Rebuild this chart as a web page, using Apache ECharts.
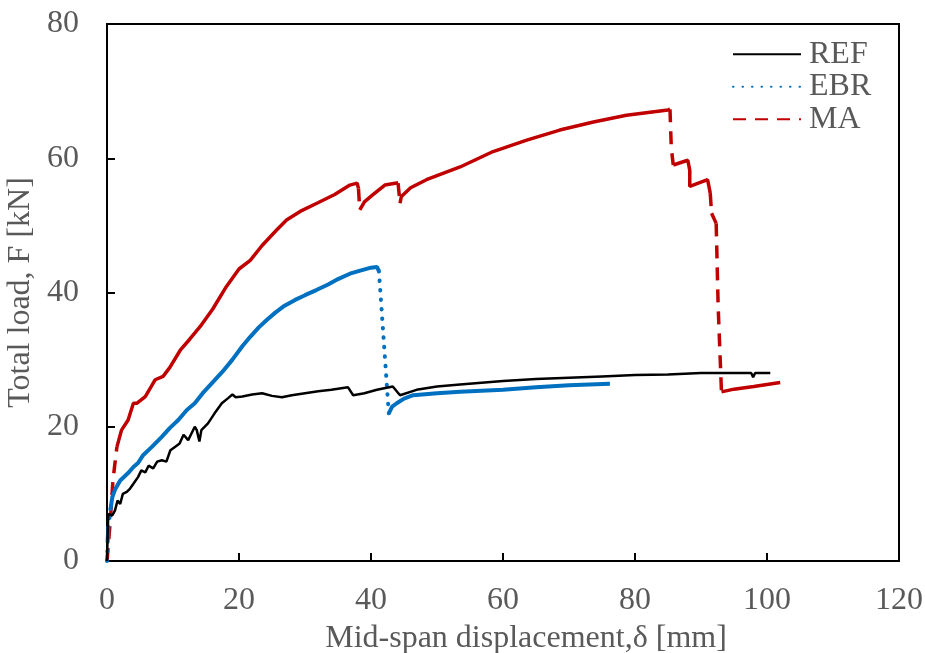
<!DOCTYPE html>
<html>
<head>
<meta charset="utf-8">
<script src="https://cdn.jsdelivr.net/npm/echarts@6/dist/echarts.min.js"></script>
<style>html,body{margin:0;padding:0;background:#fff}#c{width:925px;height:653px}</style>
</head>
<body>
<div id="c"></div>
<script>
// ---- data (x: mid-span displacement [mm], y: total load [kN]) ----
const seriesNames = ['REF', 'EBR', 'MA'];
const xTicks = [0, 20, 40, 60, 80, 100, 120];
const yTicks = [0, 20, 40, 60, 80];

const refCurve = [[0,0],[0.1,4],[0.2,7],[0.8,6.8],[1.2,7.5],[1.6,9],[2.0,8.5],[2.4,10],[3.0,10.3],[3.5,10.8],[4.0,11.5],[4.7,12.5],[5.2,13.5],[5.8,13.2],[6.3,14.2],[7.0,13.8],[7.6,14.8],[8.3,15],[9,14.8],[9.6,16.5],[10.3,17],[11,17.5],[11.6,18.8],[12.3,18],[12.8,19],[13.3,20],[13.6,19.5],[14.0,17.8],[14.3,19.5],[15.3,20.5],[16.3,22],[17.4,23.5],[18.4,24.3],[19,24.8],[19.5,24.4],[20.5,24.5],[22,24.8],[23.5,25],[25,24.6],[26.5,24.4],[28,24.7],[30,25],[32,25.3],[34,25.5],[36.5,25.9],[37.3,24.7],[39,25],[40.9,25.5],[43.3,26],[44.4,24.7],[46.9,25.5],[50,26],[53.5,26.3],[60,26.8],[65,27.1],[70,27.3],[75,27.5],[80,27.7],[85,27.8],[90,28],[95,28],[97.6,28],[97.9,27.4],[98.2,28],[100.5,28]];

const ebrCurve = [[0,0],[0.1,3],[0.2,5],[0.5,7.5],[0.8,9.5],[1.2,10.6],[2,12],[3.2,13.1],[4,14],[4.7,14.6],[5.5,15.8],[6.8,17],[8.3,18.5],[9.5,19.8],[10.8,21],[12.1,22.5],[13.3,23.5],[14.5,25],[15.9,26.5],[17.5,28.2],[19,30],[20.5,32],[21.7,33.4],[23,34.8],[24.2,35.9],[25.5,37],[26.7,37.9],[28.5,38.9],[30,39.6],[31.8,40.4],[33.5,41.2],[35,42],[36.8,42.8],[38.5,43.3],[40,43.7],[40.9,43.8],[41.2,43.2],[42.7,22],[43.2,23],[43.9,23.5],[45,24.2],[46.4,24.7],[50,25],[53.5,25.2],[60,25.5],[65,25.9],[70,26.2],[76.2,26.4]];

const maCurve = [[0,0],[0.5,6],[0.9,12],[1.5,17],[2.2,19.5],[3.2,21],[4,23.5],[4.5,23.5],[5.8,24.5],[7,26.5],[7.3,27],[8.5,27.5],[9.5,28.8],[11.1,31.4],[12.5,33],[14.1,34.9],[16,37.5],[18.1,40.9],[20,43.5],[21.7,44.8],[23.5,47],[25.7,49.3],[27.2,50.8],[29.5,52.2],[31.8,53.3],[34.5,54.6],[36.8,56],[37.9,56.3],[38.1,55.5],[38.3,52.3],[39,53.5],[40.2,54.5],[42.1,56],[43.9,56.3],[44.1,56.3],[44.4,53.3],[44.6,54.3],[46,55.6],[48.4,56.8],[53.5,58.7],[58.5,61],[63.6,62.7],[68.6,64.2],[73.7,65.4],[78.7,66.4],[85,67.2],[85.3,67.3],[85.5,61.5],[85.8,59],[88,59.7],[88.3,58.2],[88.3,55.8],[91,56.8],[91.4,54.8],[91.6,51.8],[92.3,50.3],[92.6,37.9],[93.1,25.2],[95,25.6],[98,26],[102,26.6]];

// ---- split a curve into continuous parts and steep jump parts ----
function splitCurve(pts) {
  const solid = [], jump = [];
  let lastS = -2, lastJ = -2;
  for (let i = 0; i < pts.length - 1; i++) {
    const a = pts[i], b = pts[i + 1];
    const dx = Math.abs(b[0] - a[0]), dy = Math.abs(b[1] - a[1]);
    const isJump = dy >= 2.5 && (dx === 0 || dy / dx > 4);
    if (isJump) {
      if (lastJ !== i) { if (jump.length) jump.push(['-', '-']); jump.push(a); }
      jump.push(b); lastJ = i + 1;
    } else {
      if (lastS !== i) { if (solid.length) solid.push(['-', '-']); solid.push(a); }
      solid.push(b); lastS = i + 1;
    }
  }
  return { solid, jump };
}

const ebrParts = splitCurve(ebrCurve);
const maParts = splitCurve(maCurve);

const FONT = 'Liberation Serif';
const TXT = '#595959';
const BLACK = '#000000', BLUE = '#0070C0', RED = '#C00000';

const base = { type: 'line', symbol: 'none', showSymbol: false, connectNulls: false, animation: false, silent: true };

const chart = echarts.init(document.getElementById('c'), null, { renderer: 'canvas' });
chart.setOption({
  backgroundColor: '#ffffff',
  animation: false,
  grid: { left: 107, right: 26, top: 24, bottom: 92, containLabel: false, outerBoundsMode: 'none',
          show: true, borderColor: '#000', borderWidth: 2, backgroundColor: 'transparent' },
  legend: {
    data: seriesNames,
    orient: 'vertical',
    left: 727, top: 33,
    itemWidth: 68, itemHeight: 14, itemGap: 0,
    itemStyle: { opacity: 0 },
    textStyle: { fontFamily: FONT, fontSize: 32, color: TXT, lineHeight: 32.5, padding: [0, 0, 0, 3] }
  },
  xAxis: {
    type: 'value', min: xTicks[0], max: xTicks[xTicks.length - 1], interval: 20,
    name: 'Mid-span displacement,δ [mm]', nameLocation: 'middle', nameGap: 62,
    nameTextStyle: { fontFamily: FONT, fontSize: 32, color: TXT, padding: [0, 0, 0, 46] },
    axisLine: { show: true, lineStyle: { color: '#000', width: 2 } },
    axisTick: { show: true, inside: true, length: 8, lineStyle: { color: '#000', width: 2 } },
    axisLabel: { fontFamily: FONT, fontSize: 32, color: TXT, margin: 24 },
    splitLine: { show: false }
  },
  yAxis: {
    type: 'value', min: yTicks[0], max: yTicks[yTicks.length - 1], interval: 20,
    name: 'Total load, F [kN]', nameLocation: 'middle', nameGap: 67,
    nameTextStyle: { fontFamily: FONT, fontSize: 32, color: TXT },
    axisLine: { show: true, lineStyle: { color: '#000', width: 2 } },
    axisTick: { show: true, inside: true, length: 8, lineStyle: { color: '#000', width: 2 } },
    axisLabel: { fontFamily: FONT, fontSize: 32, color: TXT, margin: 28 },
    splitLine: { show: false }
  },
  series: [
    Object.assign({}, base, { name: 'REF', data: refCurve, z: 5,
      lineStyle: { color: BLACK, width: 2.5 }, itemStyle: { color: BLACK } }),
    Object.assign({}, base, { name: 'EBR', data: ebrParts.jump, z: 4,
      lineStyle: { color: BLUE, width: 4, type: [0.5, 9], cap: 'round' }, itemStyle: { color: BLUE } }),
    Object.assign({}, base, { name: 'EBR', data: ebrParts.solid, z: 4,
      lineStyle: { color: BLUE, width: 4 }, itemStyle: { color: BLUE } }),
    Object.assign({}, base, { name: 'MA', data: maParts.jump, z: 3,
      lineStyle: { color: RED, width: 3.5, type: [13, 9] }, itemStyle: { color: RED } }),
    Object.assign({}, base, { name: 'MA', data: maParts.solid, z: 3,
      lineStyle: { color: RED, width: 3.5 }, itemStyle: { color: RED } })
  ]
});
</script>
</body>
</html>
